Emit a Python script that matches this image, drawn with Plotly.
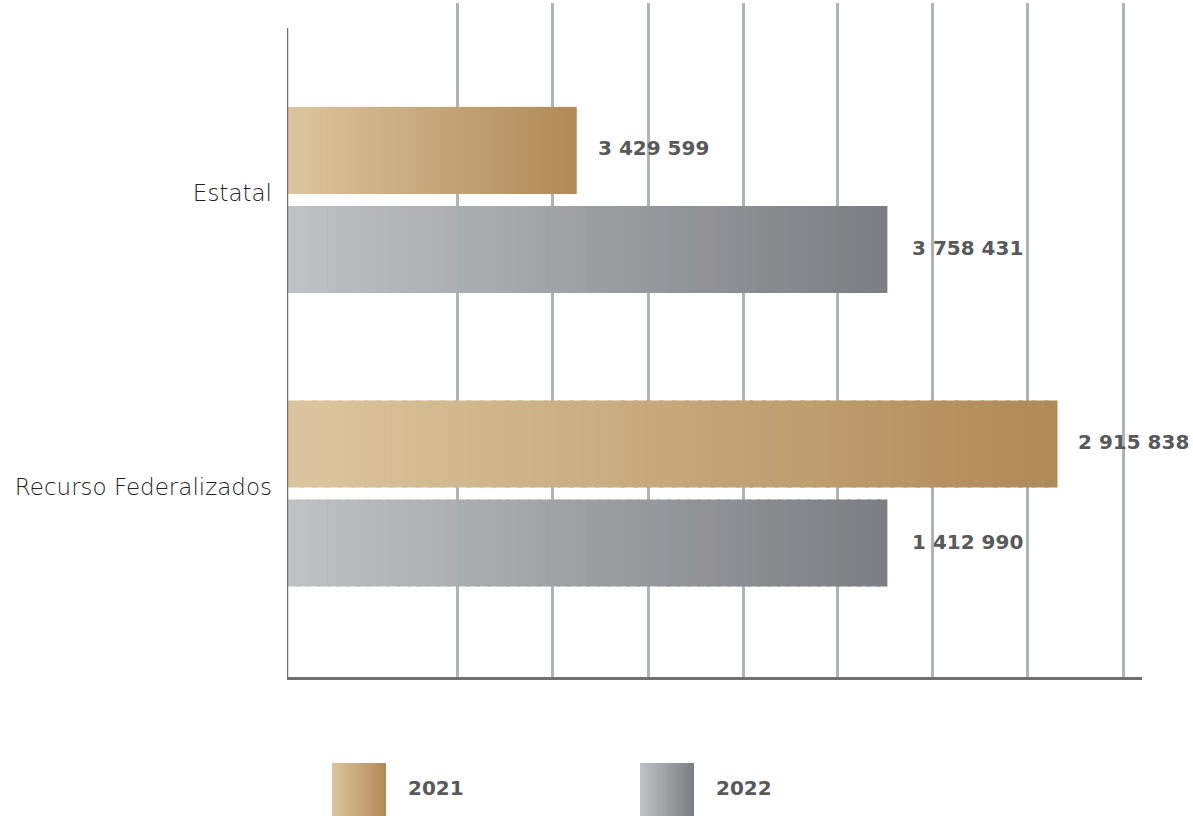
import plotly.graph_objects as go

categories = ["Estatal", "Recurso Federalizados"]
series_names = ["2021", "2022"]
values_2021 = [3429599, 2915838]
values_2022 = [3758431, 1412990]
# bar lengths as drawn in the picture (axis units; the source chart is not to scale)
bars_2021 = [3.05, 8.11]
bars_2022 = [6.32, 6.32]
grid_ticks = [1.79, 2.79, 3.80, 4.80, 5.79, 6.79, 7.79, 8.80]

GOLD = ((220, 197, 158), (176, 138, 88))
GRAY = ((191, 193, 196), (123, 126, 130))
N = 60


def mix(c0, c1, t):
    return "rgb(%d,%d,%d)" % tuple(round(a + (b - a) * t) for a, b in zip(c0, c1))


def gradient_bar(name, lengths, cols):
    ys, xs, bases, colors = [], [], [], []
    for cat, L in zip(categories, lengths):
        step = L / N
        for i in range(N):
            ys.append(cat)
            bases.append(step * i)
            xs.append(step * 1.3 if i < N - 1 else step)
            colors.append(mix(cols[0], cols[1], i / (N - 1)))
    return go.Bar(y=ys, x=xs, base=bases, orientation="h", name=name,
                  marker=dict(color=colors, line=dict(width=0)),
                  hoverinfo="skip", showlegend=False)


def fmt(v):
    return f"{v:,}".replace(",", " ")


fig = go.Figure()
fig.add_trace(gradient_bar(series_names[0], bars_2021, GOLD))
fig.add_trace(gradient_bar(series_names[1], bars_2022, GRAY))

label_font = dict(family="DejaVu Sans", size=20, color="#58595b", weight="bold")
annotations = []
for cat, L, v in zip(categories, bars_2021, values_2021):
    annotations.append(dict(x=L, y=cat, xref="x", yref="y", text=fmt(v), showarrow=False,
                            xanchor="left", yanchor="middle", xshift=19, yshift=52, font=label_font))
for cat, L, v in zip(categories, bars_2022, values_2022):
    annotations.append(dict(x=L, y=cat, xref="x", yref="y", text=fmt(v), showarrow=False,
                            xanchor="left", yanchor="middle", xshift=23, yshift=-48, font=label_font))

# legend (gradient swatches)
shapes = []
W, H = 1193, 816
L_M, R_M, T_M, B_M = 287, 51, 3, 139
pw, ph = W - L_M - R_M, H - T_M - B_M


def px_x(p):
    return (p - L_M) / pw


def px_y(p):
    return (H - B_M - p) / ph


for (x0px, cols, nm) in [(332, GOLD, series_names[0]), (640, GRAY, series_names[1])]:
    M = 27
    for i in range(M):
        a = x0px + 54 * i / M
        b = x0px + 54 * (i + 1.3) / M if i < M - 1 else x0px + 54
        shapes.append(dict(type="rect", xref="paper", yref="paper",
                           x0=px_x(a), x1=px_x(b), y0=px_y(816), y1=px_y(763),
                           line=dict(width=0), fillcolor=mix(cols[0], cols[1], i / (M - 1)),
                           layer="above"))
    annotations.append(dict(x=px_x(x0px + 74), y=px_y(788), xref="paper", yref="paper",
                            text=nm, showarrow=False, xanchor="left", yanchor="middle",
                            font=label_font))

# left axis line (starts below the top of the gridlines)
shapes.append(dict(type="line", xref="x", yref="paper", x0=0, x1=0, y0=0, y1=px_y(28),
                   line=dict(color="#707070", width=2.5), layer="above"))

fig.update_layout(
    width=W, height=H,
    margin=dict(l=L_M, r=R_M, t=T_M, b=B_M),
    paper_bgcolor="white", plot_bgcolor="white",
    barmode="group", bargap=0.325, bargroupgap=0.121,
    showlegend=False,
    annotations=annotations,
    shapes=shapes,
    xaxis=dict(range=[0, 9], tickvals=grid_ticks, showticklabels=False, ticks="",
               showgrid=True, gridcolor="#b1b4b7", gridwidth=2.5, zeroline=False,
               showline=True, linecolor="#707070", linewidth=2.5, fixedrange=True),
    yaxis=dict(type="category", categoryorder="array", categoryarray=categories,
               range=[1.625, -0.671], showgrid=False, zeroline=False, showline=False,
               ticks="", ticklabelstandoff=14, ticklabelshift=7, fixedrange=True,
               tickfont=dict(family="DejaVu Sans", size=23, color="#222222", weight=300)),
)

fig.write_html("out.html", config={"displayModeBar": False},
               post_script="document.body.style.margin='0px';")
